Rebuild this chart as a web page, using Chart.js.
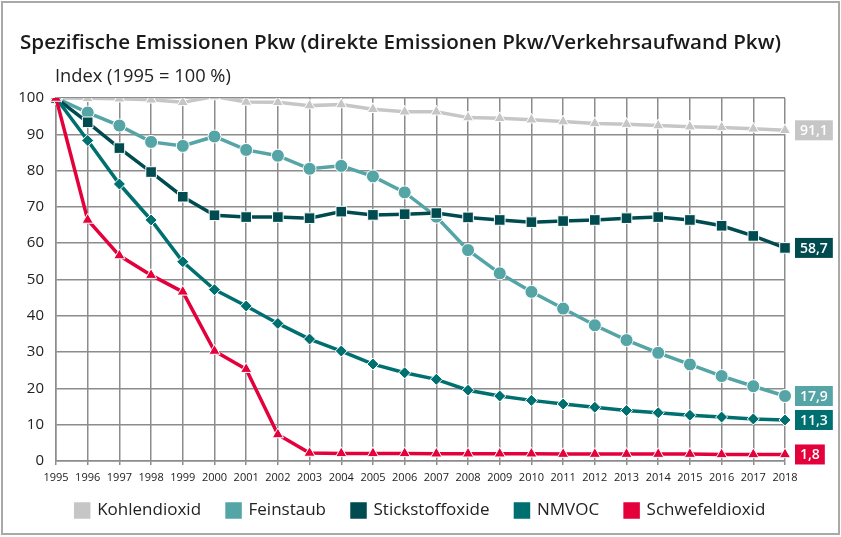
<!DOCTYPE html>
<html>
<head>
<meta charset="utf-8">
<script src="https://cdn.jsdelivr.net/npm/chart.js@4.4.1/dist/chart.umd.min.js"></script>
<style>
    html, body { margin: 0; padding: 0; background: #fff; }
    #wrap { position: relative; width: 841px; height: 537px; }
    #frame { position: absolute; left: 1px; top: 1px; width: 835px; height: 530px;
             border: 2px solid #a9a9a9; pointer-events: none; }
    #title { position: absolute; left: 20px; top: 27px; font: 600 20.6px "Open Sans", sans-serif; color: #1a1a1a; white-space: nowrap; }
    #unit { position: absolute; left: 55px; top: 62px; font: 18.3px "Open Sans", sans-serif; color: #222; white-space: nowrap; }
</style>
</head>
<body>
<div id="wrap">
    <canvas id="chart" width="841" height="537"></canvas>
    <div id="title">Spezifische Emissionen Pkw (direkte Emissionen Pkw/Verkehrsaufwand Pkw)</div>
    <div id="unit">Index (1995 = 100 %)</div>
    <div id="frame"></div>
</div>
<script>
const years = ['1995','1996','1997','1998','1999','2000','2001','2002','2003','2004','2005','2006',
               '2007','2008','2009','2010','2011','2012','2013','2014','2015','2016','2017','2018'];
const yTicks = [0, 10, 20, 30, 40, 50, 60, 70, 80, 90, 100];

const kohlendioxid = [100, 99.9, 99.8, 99.5, 98.8, 100.4, 98.9, 98.8, 97.9, 98.2, 96.9, 96.2,
                      96.2, 94.6, 94.4, 94.0, 93.5, 93.0, 92.8, 92.4, 92.1, 91.9, 91.5, 91.1];
const feinstaub = [100, 96.0, 92.4, 87.9, 86.8, 89.4, 85.7, 84.1, 80.5, 81.3, 78.4, 74.0,
                   67.3, 58.1, 51.7, 46.6, 42.0, 37.4, 33.3, 29.8, 26.6, 23.4, 20.6, 17.9];
const stickstoffoxide = [100, 93.3, 86.2, 79.6, 72.8, 67.7, 67.2, 67.2, 66.9, 68.7, 67.8, 68.0,
                         68.3, 67.1, 66.4, 65.8, 66.1, 66.4, 66.9, 67.2, 66.4, 64.8, 62.0, 58.7];
const nmvoc = [100, 88.3, 76.3, 66.4, 54.9, 47.2, 42.7, 37.9, 33.6, 30.3, 26.7, 24.3,
               22.5, 19.5, 17.9, 16.7, 15.7, 14.8, 13.9, 13.3, 12.6, 12.1, 11.6, 11.3];
const schwefeldioxid = [100, 66.4, 56.6, 51.2, 46.6, 30.3, 25.3, 7.3, 2.2, 2.1, 2.1, 2.1,
                        2.0, 2.0, 2.0, 2.0, 1.9, 1.9, 1.9, 1.9, 1.9, 1.8, 1.8, 1.8];

const seriesNames = ['Kohlendioxid', 'Feinstaub', 'Stickstoffoxide', 'NMVOC', 'Schwefeldioxid'];
const seriesData = [kohlendioxid, feinstaub, stickstoffoxide, nmvoc, schwefeldioxid];
const seriesColors = ['#c6c6c6', '#55a4a6', '#004b50', '#006f70', '#e3003b'];
const seriesPoints = ['triangle', 'circle', 'rect', 'rectRot', 'triangle'];
const seriesRadius = [6.5, 6.5, 7.5, 6, 6.5];

// value boxes at the right end of each line
const endLabels = {
    id: 'endLabels',
    afterDatasetsDraw(chart) {
        const ctx = chart.ctx;
        const x0 = chart.scales.x.right + 10;
        ctx.save();
        ctx.font = '600 14px "Open Sans", sans-serif';
        ctx.textBaseline = 'middle';
        ctx.textAlign = 'center';
        chart.data.datasets.forEach(function (ds) {
            const v = ds.data[ds.data.length - 1];
            const y = chart.scales.y.getPixelForValue(v);
            const txt = v.toFixed(1).replace('.', ',');
            const w = ctx.measureText(txt).width + 10;
            ctx.fillStyle = ds.borderColor;
            ctx.fillRect(x0, y - 10, w, 20);
            ctx.fillStyle = '#fff';
            ctx.fillText(txt, x0 + w / 2, y + 1);
        });
        ctx.restore();
    }
};

// legend: fixed height, pulled up under the axis and centred on the whole canvas
const legendFit = {
    id: 'legendFit',
    beforeUpdate(chart) {
        const lg = chart.legend;
        if (lg && !lg._patched) {
            const orig = lg.fit;
            lg.fit = function () { orig.call(this); this.height = 50; };
            lg._patched = true;
        }
    },
    afterLayout(chart) {
        const lg = chart.legend;
        const dy = 476 - lg.top;
        const dx = (chart.width - lg.right - lg.left) / 2;
        lg.top += dy; lg.bottom += dy;
        lg.left += dx; lg.right += dx;
    }
};

const datasets = seriesNames.map(function (name, i) {
    return {
        label: name,
        data: seriesData[i],
        borderColor: seriesColors[i],
        backgroundColor: seriesColors[i],
        borderWidth: 3.5,
        pointStyle: seriesPoints[i],
        pointRadius: seriesRadius[i],
        pointBackgroundColor: seriesColors[i],
        pointBorderColor: '#fff',
        pointBorderWidth: 1,
        tension: 0,
        order: seriesNames.length - 1 - i,
    };
});

new Chart(document.getElementById('chart'), {
    type: 'line',
    data: { labels: years, datasets: datasets },
    options: {
        responsive: false,
        animation: false,
        layout: { padding: { top: 98, right: 56, left: 0, bottom: 0 } },
        plugins: {
            tooltip: { enabled: false },
            legend: {
                position: 'bottom',
                labels: {
                    boxWidth: 13,
                    boxHeight: 13,
                    padding: 26,
                    color: '#222',
                    font: { family: 'Open Sans', size: 17 },
                    sort: function (a, b) { return a.datasetIndex - b.datasetIndex; },
                },
            },
        },
        scales: {
            x: {
                offset: false,
                grid: { color: '#8c8c8c', lineWidth: 1.5, tickLength: 4 },
                border: { color: '#8c8c8c', width: 1.5 },
                ticks: { color: '#222', font: { family: 'Open Sans', size: 11 }, padding: 6,
                         maxRotation: 0, autoSkip: false },
                afterFit: function (s) { s.height = 26; },
            },
            y: {
                min: 0,
                max: 100,
                afterBuildTicks: function (s) { s.ticks = yTicks.map(function (v) { return { value: v }; }); },
                grid: { color: '#8c8c8c', lineWidth: 1.5, drawTicks: false },
                border: { color: '#8c8c8c', width: 1.5 },
                ticks: { color: '#222', font: { family: 'Open Sans', size: 15 }, padding: 12 },
                afterFit: function (s) { s.width = 56; },
            },
        },
    },
    plugins: [endLabels, legendFit],
});
</script>
</body>
</html>
